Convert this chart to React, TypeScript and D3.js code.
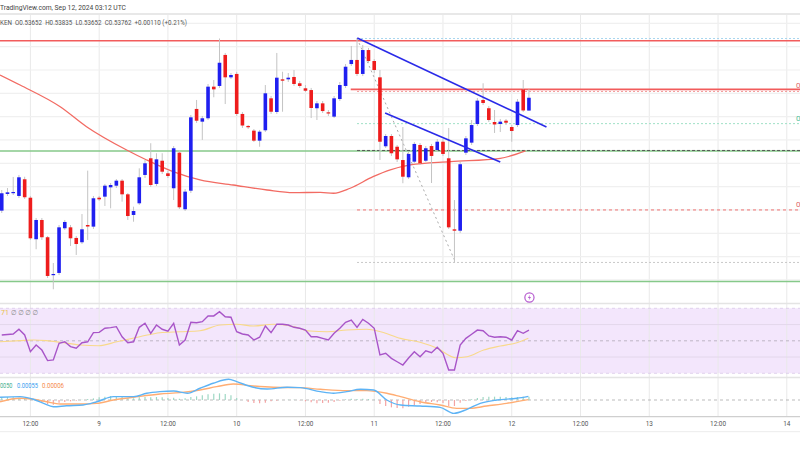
import React from "react";
import * as d3 from "d3";

// Hours are counted from Sep 8, 12:00 UTC; first candle is hour -5 (1h candles)
const FIRST_HOUR = -5;

// [open, high, low, close]
const candles: [number, number, number, number][] = [
  [0.52794, 0.52971, 0.52774, 0.52943], [0.52937, 0.52988, 0.5292, 0.52951], [0.52945, 0.53083, 0.52928, 0.52954],
  [0.5292, 0.531, 0.52903, 0.5308], [0.53063, 0.53085, 0.52894, 0.52909], [0.52905, 0.5292, 0.52543, 0.52557],
  [0.52549, 0.52731, 0.52463, 0.52714], [0.52714, 0.52731, 0.52543, 0.52566], [0.52566, 0.52577, 0.52217, 0.52234],
  [0.52242, 0.52345, 0.5212, 0.52251], [0.5226, 0.52671, 0.52242, 0.52651], [0.52643, 0.52714, 0.52628, 0.52697],
  [0.52651, 0.52671, 0.52491, 0.52557], [0.5256, 0.52577, 0.52414, 0.52508], [0.52523, 0.52765, 0.52508, 0.52634],
  [0.52671, 0.53137, 0.52543, 0.52658], [0.52657, 0.5292, 0.52637, 0.529], [0.52905, 0.5292, 0.52877, 0.52891],
  [0.52914, 0.53023, 0.52834, 0.53008], [0.52994, 0.53031, 0.52814, 0.53014], [0.53008, 0.53065, 0.52988, 0.53051],
  [0.53051, 0.53065, 0.52871, 0.52934], [0.52934, 0.52945, 0.52714, 0.52748], [0.52757, 0.52828, 0.52699, 0.52791],
  [0.52857, 0.53157, 0.52843, 0.5308], [0.531, 0.53228, 0.53074, 0.532], [0.53243, 0.53372, 0.52997, 0.53014],
  [0.53023, 0.53286, 0.53005, 0.53234], [0.53222, 0.53286, 0.53108, 0.53128], [0.53114, 0.53134, 0.53074, 0.53091],
  [0.52986, 0.53348, 0.52885, 0.53329], [0.53291, 0.53314, 0.52808, 0.52823], [0.52806, 0.5298, 0.52791, 0.52957],
  [0.52965, 0.53614, 0.52945, 0.53594], [0.53666, 0.53743, 0.53546, 0.53565], [0.53557, 0.53606, 0.534, 0.53586],
  [0.53586, 0.5388, 0.53571, 0.53857], [0.53857, 0.53914, 0.53766, 0.53834], [0.53863, 0.5427, 0.53846, 0.54062],
  [0.54129, 0.54146, 0.53708, 0.53937], [0.53937, 0.53974, 0.53923, 0.53957], [0.53966, 0.53983, 0.53606, 0.53623],
  [0.53623, 0.5364, 0.53503, 0.53524], [0.5352, 0.53528, 0.53494, 0.53509], [0.5348, 0.53494, 0.53383, 0.53394],
  [0.53394, 0.53486, 0.53342, 0.53471], [0.53483, 0.53871, 0.53468, 0.538], [0.53757, 0.53777, 0.53623, 0.53642],
  [0.5364, 0.54146, 0.53623, 0.53934], [0.5392, 0.53985, 0.53642, 0.53908], [0.5392, 0.53974, 0.53897, 0.53934],
  [0.5394, 0.54, 0.53863, 0.5388], [0.53886, 0.53906, 0.53846, 0.53863], [0.53843, 0.53871, 0.53811, 0.53822],
  [0.53828, 0.53846, 0.53588, 0.53674], [0.53672, 0.53734, 0.53571, 0.53714], [0.53714, 0.53734, 0.53631, 0.53648],
  [0.53637, 0.53657, 0.53606, 0.53627], [0.536, 0.53777, 0.53588, 0.53757], [0.53751, 0.53897, 0.53734, 0.53871],
  [0.53863, 0.54051, 0.53846, 0.54028], [0.54051, 0.54206, 0.54034, 0.54086], [0.54086, 0.54274, 0.53948, 0.53966],
  [0.53966, 0.54214, 0.53948, 0.54171], [0.54171, 0.54189, 0.5406, 0.54077], [0.54077, 0.54094, 0.53974, 0.54],
  [0.53937, 0.54, 0.53228, 0.53385], [0.53346, 0.53451, 0.53331, 0.53434], [0.53434, 0.53451, 0.53263, 0.53286],
  [0.53342, 0.53357, 0.53211, 0.53234], [0.53228, 0.53511, 0.53029, 0.53085], [0.5308, 0.53297, 0.53065, 0.5328],
  [0.53214, 0.53383, 0.53203, 0.53366], [0.53357, 0.53374, 0.53186, 0.532], [0.53222, 0.53348, 0.53211, 0.53329],
  [0.53348, 0.53366, 0.53031, 0.53263], [0.53314, 0.53408, 0.53297, 0.53385], [0.53385, 0.53408, 0.53263, 0.5328],
  [0.53243, 0.53503, 0.52637, 0.52651], [0.52634, 0.52885, 0.5235, 0.52622], [0.52622, 0.53211, 0.52603, 0.53192],
  [0.53291, 0.53434, 0.53271, 0.53414], [0.53377, 0.53571, 0.53357, 0.53528], [0.53537, 0.5376, 0.5352, 0.53737],
  [0.53743, 0.53886, 0.537, 0.53717], [0.53672, 0.53691, 0.53554, 0.53571], [0.53554, 0.53657, 0.5346, 0.53533],
  [0.53537, 0.5358, 0.53468, 0.53557], [0.53565, 0.5358, 0.53528, 0.53548], [0.53511, 0.53528, 0.53385, 0.53477],
  [0.53528, 0.53751, 0.53511, 0.53728], [0.53833, 0.53914, 0.5364, 0.53653], [0.53652, 0.53835, 0.53652, 0.53762],
];

// 100 SMA [hour, price]
const maPoints: [number, number][] = [
  [-5.3, 0.53957], [-1.8, 0.53871], [5.2, 0.53685], [9.8, 0.53514], [16.8, 0.53314], [20.3, 0.53228],
  [24.9, 0.53128], [29.6, 0.53057], [35.4, 0.53014], [41.3, 0.52971], [45.9, 0.52948], [50.6, 0.52951],
  [52.9, 0.52943], [55.8, 0.52986], [59.8, 0.53085], [62.8, 0.53143], [66.3, 0.53186], [73.3, 0.53214],
  [82.0, 0.53243], [86.4, 0.53306],
];

// Horizontal levels
const fullLevels = [
  { price: 0.54251, color: "#f25c5c", width: 1.6, from: -6 },
  { price: 0.53834, color: "#f25c5c", width: 1.6, from: 55.9 },
  { price: 0.53306, color: "#86c98a", width: 1.6, from: -6 },
  { price: 0.52187, color: "#86c98a", width: 1.6, from: -6 },
];
const fibLevels = [
  { price: 0.5427, color: "#a9d6ef", dash: "2,2", label: "" },
  { price: 0.53816, color: "#f29a9a", dash: "2,2", label: "0" },
  { price: 0.5354, color: "#9fe0c6", dash: "2,2", label: "0" },
  { price: 0.5331, color: "#555555", dash: "3,2", label: "" },
  { price: 0.528, color: "#f07070", dash: "3,3", label: "0" },
  { price: 0.5235, color: "#c8c8c8", dash: "2,2", label: "" },
];
const fibStartHour = 57.0;
const fibEndHour = 132;

// Trend lines [hour, price]
const trendLines: [number, number][][] = [
  [[57.05, 0.54274], [90.06, 0.53511]],
  [[61.9, 0.53631], [82.0, 0.53211]],
];
const fibDiagonal: [number, number][] = [[57.0, 0.5427], [74.2, 0.5235]];

// RSI per candle
const rsiValues = [
  53.6, 53.9, 54.2, 57.1, 53.6, 43.3, 47.4, 44.3, 37.8, 38.2, 48.5, 49.4, 46.4, 45.4, 48.8,
  49.4, 55.0, 55.2, 57.7, 58.1, 58.7, 52.5, 48.8, 49.4, 58.3, 60.8, 54.6, 59.7, 57.1, 55.9,
  60.8, 47.4, 50.5, 61.4, 61.1, 61.8, 65.3, 65.3, 67.9, 64.8, 64.5, 55.6, 54.2, 53.6, 50.5,
  52.2, 59.1, 55.0, 60.2, 60.2, 59.7, 58.3, 57.7, 56.6, 52.5, 52.5, 51.5, 50.5, 54.6, 57.7,
  61.4, 62.8, 58.3, 63.2, 60.8, 57.7, 41.3, 42.3, 39.2, 37.1, 35.1, 39.4, 43.3, 40.2, 43.9,
  42.7, 46.0, 42.3, 32.0, 32.0, 47.4, 51.5, 54.0, 56.6, 56.2, 53.0, 52.2, 52.5, 52.2, 50.5,
  56.2, 54.6, 56.6,
];
const rsiMaPoints: [number, number][] = [
  [-5.3, 49.4], [-1.8, 50.1], [0.5, 50.5], [2.8, 50.1], [5.2, 49.1], [8.7, 47.4], [11.9, 47.0],
  [15.1, 49.4], [19.1, 52.5], [22.6, 55.0], [26.1, 55.6], [29.6, 56.2], [33.1, 59.7], [36.0, 60.2],
  [38.9, 59.1], [42.4, 60.2], [45.9, 58.7], [48.8, 56.0], [51.8, 55.6], [55.2, 56.6], [58.7, 57.1],
  [61.1, 55.6], [64.6, 51.5], [68.0, 49.1], [71.0, 45.4], [74.2, 39.6], [76.2, 40.2], [79.1, 44.3],
  [82.0, 46.8], [84.9, 48.8], [86.9, 51.5],
];

// MACD
const macdPoints: [number, number][] = [
  [-5.3, 0.00041], [-1.8, 0.0005], [0.5, 0.00011], [2.3, -0.0005], [4.0, -0.00101], [6.3, -0.00086],
  [9.2, -0.00075], [11.6, -0.00026], [14.5, 0.0005], [18.0, 0.0005], [20.3, 0.00101], [22.6, 0.00125],
  [25.0, 0.00135], [27.4, 0.00101], [29.6, 0.00176], [31.9, 0.00251], [34.6, 0.00311], [36.0, 0.00275],
  [38.9, 0.00191], [41.3, 0.00165], [44.8, 0.00191], [47.1, 0.00185], [50.6, 0.00125], [52.9, 0.00101],
  [55.2, 0.00125], [57.6, 0.00161], [59.9, 0.0015], [62.2, 0.0], [64.6, -0.00075], [68.0, -0.0009],
  [71.5, -0.0011], [73.9, -0.002], [76.2, -0.0014], [78.5, -0.0005], [81.4, 0.0], [84.9, 0.00026],
  [86.9, 0.00055],
];
const signalPoints: [number, number][] = [
  [-5.3, -0.00026], [-1.8, 0.00026], [0.5, 0.00011], [2.8, -0.00026], [5.2, -0.0006], [8.7, -0.0006],
  [11.6, -0.0005], [14.5, 0.0], [18.0, 0.00041], [22.6, 0.0009], [26.1, 0.0011], [29.6, 0.0015],
  [32.5, 0.002], [35.4, 0.0024], [38.9, 0.0021], [42.4, 0.00191], [47.1, 0.00185], [50.6, 0.00161],
  [55.2, 0.0014], [58.7, 0.0014], [62.2, 0.00101], [64.6, 0.0005], [68.0, -0.00026], [71.5, -0.00075],
  [74.4, -0.00125], [76.7, -0.00125], [79.6, -0.0009], [83.1, -0.0005], [86.9, 0.00006],
];
const histValues = [
  0.0004, 0.00045, 0.0004, 0.00035, 0.00025, 0.00005, -0.0001, -0.0003, -0.0006, -0.0007,
  -0.0004, -0.0003, -0.0002, -0.0001, 0.00005, 0.00015, 0.00025, 0.0004, 0.0005, 0.0006,
  0.00055, 0.00045, 0.0003, 0.00025, 0.0004, 0.00045, 0.0004, 0.00045, 0.0004, 0.0003,
  0.00035, 0.0002, 0.00025, 0.00045, 0.00055, 0.0007, 0.00085, 0.00095, 0.001, 0.0009,
  0.0007, 0.0003, 0.0, -0.0003, -0.00045, -0.0005, -0.0004, -0.0002, -0.0001, 0.0,
  0.00005, 0.00005, -0.00005, -0.0002, -0.00035, -0.0005, -0.00045, -0.0004, -0.0003, -0.0001,
  0.0001, 0.0002, 0.00015, 0.0002, 0.00015, 0.00005, -0.0006, -0.0009, -0.0011, -0.0012,
  -0.00125, -0.001, -0.0008, -0.0006, -0.0004, -0.0003, -0.00035, -0.00045, -0.0009, -0.0009,
  -0.0004, -0.00015, 0.0001, 0.0003, 0.00045, 0.0005, 0.0005, 0.0005, 0.00045, 0.0004,
  0.00045, 0.0005, 0.0005,
];

const tickHours = [0, 12, 24, 36, 48, 60, 72, 84, 96, 108, 120, 132];
const tickLabels = ["12:00", "9", "12:00", "10", "12:00", "11", "12:00", "12", "12:00", "13", "12:00", "14"];
const priceGrid = [0.544, 0.542, 0.54, 0.538, 0.536, 0.534, 0.532, 0.53, 0.528, 0.526, 0.524, 0.522];

const FONT = "Roboto, 'DejaVu Sans', sans-serif";
const BLUE = "#1f1ff0";
const RED = "#ee1c1c";

export default function App() {
  const x = d3.scaleLinear().domain([0, 132]).range([30.4, 786.8]);
  const y = d3.scaleLinear().domain([0.546, 0.521]).range([0, 291.6]);
  const yR = d3.scaleLinear().domain([70, 30]).range([308.3, 373.3]);
  const yM = d3.scaleLinear().domain([0.0033, -0.0025]).range([378, 416.67]);
  const bw = 3.6;

  const priceLine = d3.line<[number, number]>().x((d) => x(d[0])).y((d) => y(d[1])).curve(d3.curveMonotoneX);
  const rsiLine = d3.line<number>().x((_, i) => x(FIRST_HOUR + i)).y((d) => yR(d));
  const rsiMaLine = d3.line<[number, number]>().x((d) => x(d[0])).y((d) => yR(d[1])).curve(d3.curveMonotoneX);
  const macdLine = d3.line<[number, number]>().x((d) => x(d[0])).y((d) => yM(d[1])).curve(d3.curveMonotoneX);

  const lastHour = FIRST_HOUR + candles.length - 1;

  return (
    <svg width={800} height={450} style={{ position: "absolute", left: 0, top: 0, background: "#fff" }} fontFamily={FONT}>
      <defs>
        <clipPath id="main"><rect x={0} y={14} width={800} height={289} /></clipPath>
      </defs>
      <rect x={0} y={0} width={800} height={450} fill="#fff" />

      {/* RSI band */}
      <rect x={0} y={yR(70)} width={800} height={yR(30) - yR(70)} fill="#f3e6fc" />

      {/* vertical grid */}
      {tickHours.map((h) => (
        <line key={"vg" + h} x1={x(h)} x2={x(h)} y1={14} y2={416.7} stroke="#e9e9e9" strokeWidth={1} />
      ))}
      {/* horizontal grid main */}
      {priceGrid.map((p) => (
        <line key={"hg" + p} x1={0} x2={800} y1={y(p)} y2={y(p)} stroke="#f0f0f0" strokeWidth={1.2} />
      ))}
      {/* RSI grid */}
      {[60, 40].map((v) => (
        <line key={"rg" + v} x1={0} x2={800} y1={yR(v)} y2={yR(v)} stroke="#e3d8ec" strokeWidth={1} />
      ))}
      {[70, 30].map((v) => (
        <line key={"rb" + v} x1={0} x2={800} y1={yR(v)} y2={yR(v)} stroke="#d9c8ea" strokeWidth={0.8} strokeDasharray="3,3" />
      ))}
      <line x1={0} x2={800} y1={yR(50)} y2={yR(50)} stroke="#b0a8b8" strokeWidth={0.8} strokeDasharray="3,3" />

      {/* borders */}
      <line x1={0} x2={800} y1={14} y2={14} stroke="#e8e8e8" strokeWidth={2} />
      <line x1={0} x2={800} y1={303.5} y2={303.5} stroke="#e4e4e4" strokeWidth={1.5} />
      <line x1={0} x2={800} y1={377.5} y2={377.5} stroke="#e4e4e4" strokeWidth={1.5} />
      <line x1={0} x2={800} y1={416.7} y2={416.7} stroke="#cfcfcf" strokeWidth={1.2} />
      <line x1={0} x2={800} y1={431.7} y2={431.7} stroke="#ececec" strokeWidth={1} />

      <g clipPath="url(#main)">
        {fullLevels.map((l, i) => (
          <line key={"fl" + i} x1={x(l.from)} x2={800} y1={y(l.price)} y2={y(l.price)} stroke={l.color} strokeWidth={l.width} />
        ))}
        {fibLevels.map((l, i) => (
          <line key={"fib" + i} x1={x(fibStartHour)} x2={x(fibEndHour) + 20} y1={y(l.price)} y2={y(l.price)} stroke={l.color} strokeWidth={1} strokeDasharray={l.dash} />
        ))}
        <path d={d3.line()([[x(fibDiagonal[0][0]), y(fibDiagonal[0][1])], [x(fibDiagonal[1][0]), y(fibDiagonal[1][1])]]) || ""} stroke="#aaaaaa" strokeWidth={1} strokeDasharray="2,3" fill="none" />

        <path d={priceLine(maPoints) || ""} fill="none" stroke="#f26b63" strokeWidth={1.3} />

        {candles.map((c, i) => {
          const h = FIRST_HOUR + i;
          const cx = x(h);
          const up = c[3] >= c[0];
          const top = y(Math.max(c[0], c[3]));
          const bot = y(Math.min(c[0], c[3]));
          return (
            <g key={"c" + i}>
              <line x1={cx} x2={cx} y1={y(c[1])} y2={y(c[2])} stroke="#c4c4c4" strokeWidth={1} />
              <rect x={cx - bw / 2} y={top} width={bw} height={Math.max(bot - top, 1.2)} fill={up ? BLUE : RED} />
            </g>
          );
        })}

        {trendLines.map((t, i) => (
          <line key={"tl" + i} x1={x(t[0][0])} y1={y(t[0][1])} x2={x(t[1][0])} y2={y(t[1][1])} stroke="#2a2ae8" strokeWidth={1.6} />
        ))}
      </g>

      {fibLevels.filter((l) => l.label).map((l, i) => (
        <text key={"flb" + i} x={796} y={y(l.price) - 3} fontSize={8} fill={l.color === "#9fe0c6" ? "#52c29a" : "#e06a6a"}>{l.label}</text>
      ))}

      <g transform={`translate(${x(lastHour) + 0.5},297.5)`}>
        <circle r={4.6} fill="#fff" stroke="#b65ccf" strokeWidth={1.2} />
        <path d="M0.8,-3 L-1.6,0.4 L0,0.4 L-0.8,3 L1.6,-0.6 L0,-0.6 Z" fill="#b65ccf" />
      </g>

      {/* RSI */}
      <path d={rsiMaLine(rsiMaPoints) || ""} fill="none" stroke="#f8d98a" strokeWidth={1.1} />
      <path d={rsiLine(rsiValues) || ""} fill="none" stroke="#a855c8" strokeWidth={1.4} />
      <text x={1} y={315} fontSize={7} fill="#e9bf45">71</text>
      <text x={11} y={315} fontSize={7} fill="#888" textLength={27} lengthAdjust="spacingAndGlyphs">∅ ∅ ∅ ∅</text>

      {/* MACD */}
      <line x1={0} x2={800} y1={yM(0)} y2={yM(0)} stroke="#aaaaaa" strokeWidth={0.8} strokeDasharray="3,3" />
      {histValues.map((v, i) => (
        <line key={"h" + i} x1={x(FIRST_HOUR + i)} x2={x(FIRST_HOUR + i)} y1={yM(0)} y2={yM(v)} stroke={v >= 0 ? "#9ed8c4" : "#f3a3a3"} strokeWidth={1.2} />
      ))}
      <path d={macdLine(signalPoints) || ""} fill="none" stroke="#ffad73" strokeWidth={1.4} />
      <path d={macdLine(macdPoints) || ""} fill="none" stroke="#5db3f5" strokeWidth={1.4} />
      <text x={0} y={388} fontSize={7} fill="#3fae8d" textLength={12.5} lengthAdjust="spacingAndGlyphs">0050</text>
      <text x={17} y={388} fontSize={7} fill="#3a9ef0" textLength={21} lengthAdjust="spacingAndGlyphs">0.00055</text>
      <text x={42} y={388} fontSize={7} fill="#f58a4a" textLength={22} lengthAdjust="spacingAndGlyphs">0.00006</text>

      {/* time axis labels */}
      {tickHours.map((h, i) => (
        <text key={"tk" + h} x={x(h)} y={425.5} fontSize={6.4} fill="#555" textAnchor="middle">{tickLabels[i]}</text>
      ))}

      {/* header */}
      <text x={0} y={10} fontSize={7.2} fill="#444" textLength={126} lengthAdjust="spacingAndGlyphs">TradingView.com, Sep 12, 2024 03:12 UTC</text>
      <text x={0} y={25} fontSize={7} fill="#555" textLength={187} lengthAdjust="spacingAndGlyphs" style={{ whiteSpace: "pre" }}>
        KEN  O0.53652  H0.53835  L0.53652  C0.53762  +0.00110 (+0.21%)
      </text>
    </svg>
  );
}
